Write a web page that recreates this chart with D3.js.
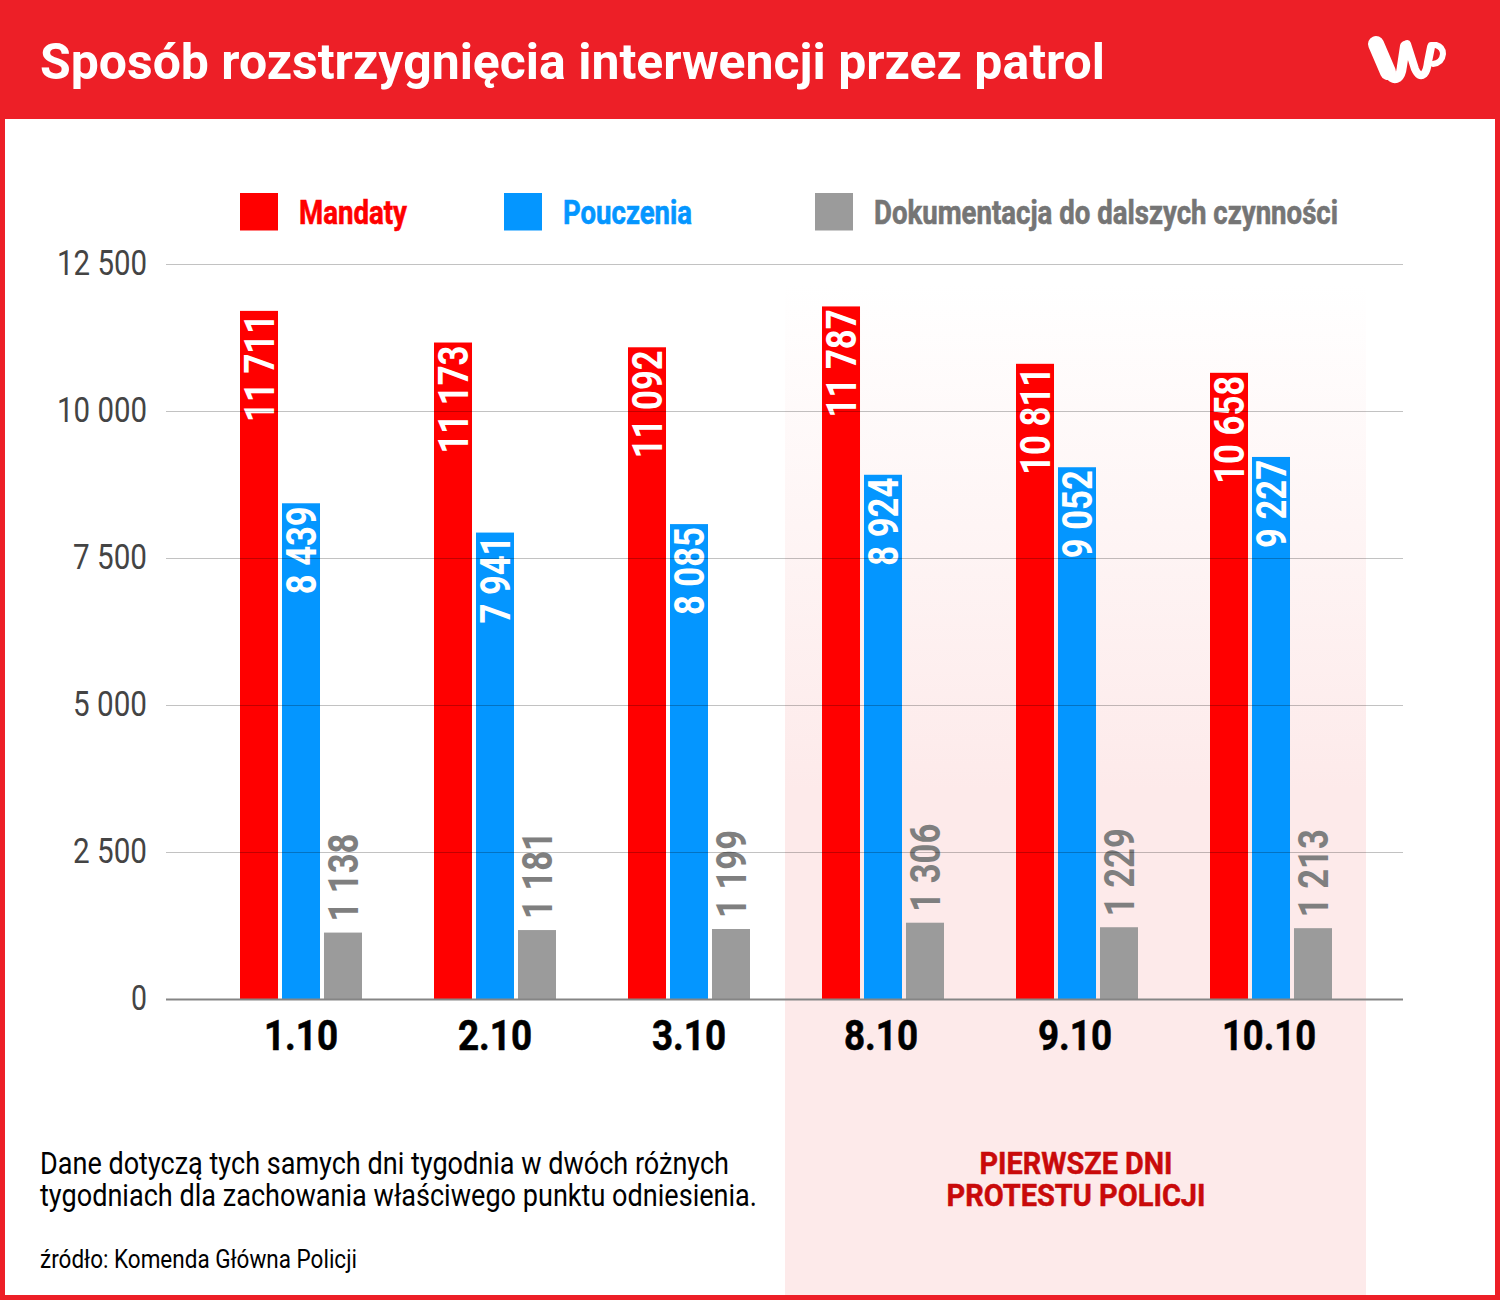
<!DOCTYPE html>
<html>
<head>
<meta charset="utf-8">
<script src="https://cdn.jsdelivr.net/npm/d3@7"></script>
<style>
  html, body { margin: 0; padding: 0; background: #fff; }
  svg { display: block; }
  text { font-family: Roboto, sans-serif; }
</style>
</head>
<body>
<svg id="chart" width="1500" height="1300"></svg>
<script>
var title = "Sposób rozstrzygnięcia interwencji przez patrol";
var days = ["1.10", "2.10", "3.10", "8.10", "9.10", "10.10"];
var seriesNames = ["Mandaty", "Pouczenia", "Dokumentacja do dalszych czynności"];
var mandaty = [11711, 11173, 11092, 11787, 10811, 10658];
var pouczenia = [8439, 7941, 8085, 8924, 9052, 9227];
var dokumentacja = [1138, 1181, 1199, 1306, 1229, 1213];
var yTicks = [0, 2500, 5000, 7500, 10000, 12500];
var noteLines = ["Dane dotyczą tych samych dni tygodnia w dwóch różnych", "tygodniach dla zachowania właściwego punktu odniesienia."];
var protestLines = ["PIERWSZE DNI", "PROTESTU POLICJI"];
var source = "źródło: Komenda Główna Policji";

var seriesValues = [mandaty, pouczenia, dokumentacja];
var colors = ["#ff0000", "#0496ff", "#9b9b9b"];
var legendColors = ["#ff0000", "#0496ff", "#757575"];

var svg = d3.select("#chart");

// polish thousands format, space instead of comma
function fmt(v){
  return d3.format(",")(v).replace(/,/g, " ");
}

// Roboto Condensed is not installed, so squeeze plain Roboto to the measured width
function label(parent, x, y, str, size, weight, fill, width, anchor){
  return parent.append("text")
    .attr("x", x).attr("y", y)
    .attr("font-size", size)
    .attr("font-weight", weight)
    .attr("fill", fill)
    .attr("text-anchor", anchor || "start")
    .attr("textLength", width)
    .attr("lengthAdjust", "spacingAndGlyphs")
    .text(str);
}

// squeezing thins the stems, a hairline stroke gets the weight back
function thicken(sel, fill, w){
  return sel.attr("stroke", fill).attr("stroke-width", w);
}

// frame + header
svg.append("rect").attr("width", 1500).attr("height", 1300).attr("fill", "#ed1f27");
svg.append("rect").attr("x", 5).attr("y", 119).attr("width", 1490).attr("height", 1176).attr("fill", "#fff");
label(svg, 40, 79, title, 50, 700, "#fff", 1065);

// wp logo
var logo = svg.append("g").attr("fill", "none").attr("stroke", "#fff")
  .attr("stroke-linecap", "round").attr("stroke-linejoin", "round");
logo.append("path").attr("d", "M1376 44 L1388 72").attr("stroke-width", 16);
logo.append("path").attr("d", "M1387 70 Q1392 81 1398 77 Q1401 75 1402 66 L1405 46").attr("stroke-width", 10);
logo.append("path").attr("d", "M1407 44 L1415 69 Q1419 78 1424 74 Q1427 71 1428 62 L1431 47").attr("stroke-width", 8);
logo.append("path").attr("d", "M1431 45 L1436 45 Q1443 47 1443 54 Q1442 63 1433 64").attr("stroke-width", 6);

// protest band, fades out towards the top
var defs = svg.append("defs");
var grad = defs.append("linearGradient").attr("id", "band")
  .attr("x1", 0).attr("y1", 0).attr("x2", 0).attr("y2", 1);
grad.append("stop").attr("offset", 0).attr("stop-color", "#fdeaea").attr("stop-opacity", 0);
grad.append("stop").attr("offset", 0.5).attr("stop-color", "#fdeaea").attr("stop-opacity", 1);
svg.append("rect").attr("x", 785).attr("y", 285).attr("width", 581).attr("height", 1010).attr("fill", "url(#band)");

// scales
var y = d3.scaleLinear().domain([0, 12500]).range([999.5, 264.5]);
var x0 = d3.scaleBand().domain(days).range([204, 1368]);
var x1 = d3.scaleBand().domain(seriesNames).range([-61, 61]).paddingInner(0.095);

// y tick labels
var tickWidths = {0: 16, 2500: 74, 5000: 74, 7500: 74, 10000: 90, 12500: 90};
yTicks.forEach(function(t){
  label(svg, 147, y(t) + 10.5, fmt(t), 35, 400, "#444444", tickWidths[t], "end");
});

// bars
var groups = svg.selectAll("g.day").data(days).enter().append("g")
  .attr("class", "day")
  .attr("transform", function(d){ return "translate(" + (x0(d) + x0.bandwidth() / 2) + ",0)"; });

seriesNames.forEach(function(name, s){
  var vals = seriesValues[s];
  groups.append("rect")
    .attr("x", x1(name))
    .attr("width", x1.bandwidth())
    .attr("y", function(d, i){ return y(vals[i]); })
    .attr("height", function(d, i){ return y(0) - y(vals[i]); })
    .attr("fill", colors[s]);
  // rotated value labels, inside the bar except for the small grey ones
  groups.append("text")
    .attr("transform", function(d, i){
      var cx = x1(name) + x1.bandwidth() / 2 + 15;
      var long = vals[i] >= 10000;
      var start = s == 2 ? y(vals[i]) - 11 : y(vals[i]) + (long ? 111 : 91);
      return "translate(" + cx + "," + start + ") rotate(-90)";
    })
    .attr("font-size", 42)
    .attr("font-weight", 700)
    .attr("fill", s == 2 ? "#7f7f7f" : "#fff")
    .attr("textLength", function(d, i){ return vals[i] >= 10000 ? 108 : 88; })
    .attr("lengthAdjust", "spacingAndGlyphs")
    .text(function(d, i){ return fmt(vals[i]); });
});

// grid runs over the bars, see-through
var gridG = svg.append("g");
gridG.selectAll("line").data(yTicks).enter().append("line")
  .attr("x1", 166).attr("x2", 1403)
  .attr("y1", function(d){ return y(d); })
  .attr("y2", function(d){ return y(d); })
  .attr("stroke", function(d){ return d == 0 ? "#858585" : "#000"; })
  .attr("stroke-opacity", function(d){ return d == 0 ? 1 : 0.24; })
  .attr("stroke-width", function(d){ return d == 0 ? 2 : 1; });

// x labels
days.forEach(function(d, i){
  var cx = x0(d) + x0.bandwidth() / 2 - (i > 2 ? 2 : 0);
  thicken(label(svg, cx, 1050, d, 42, 700, "#000", d.length > 4 ? 94 : 74, "middle"), "#000", 0.6);
});

// legend
var legendX = [240, 504, 815];
var legendText = [299, 563, 874];
var legendW = [108, 129, 464];
seriesNames.forEach(function(name, s){
  svg.append("rect").attr("x", legendX[s]).attr("y", 193).attr("width", 38).attr("height", 37.5).attr("fill", colors[s]);
  thicken(label(svg, legendText[s], 224, name, 33, 700, legendColors[s], legendW[s]), legendColors[s], 0.6);
});

// notes
label(svg, 40, 1174, noteLines[0], 31, 400, "#000", 689);
label(svg, 40, 1206, noteLines[1], 31, 400, "#000", 717);
label(svg, 40, 1268, source, 26, 400, "#000", 317);
thicken(label(svg, 1076, 1174, protestLines[0], 31, 700, "#c90a0a", 193, "middle"), "#c90a0a", 0.5);
thicken(label(svg, 1076, 1206, protestLines[1], 31, 700, "#c90a0a", 259, "middle"), "#c90a0a", 0.5);
</script>
</body>
</html>
